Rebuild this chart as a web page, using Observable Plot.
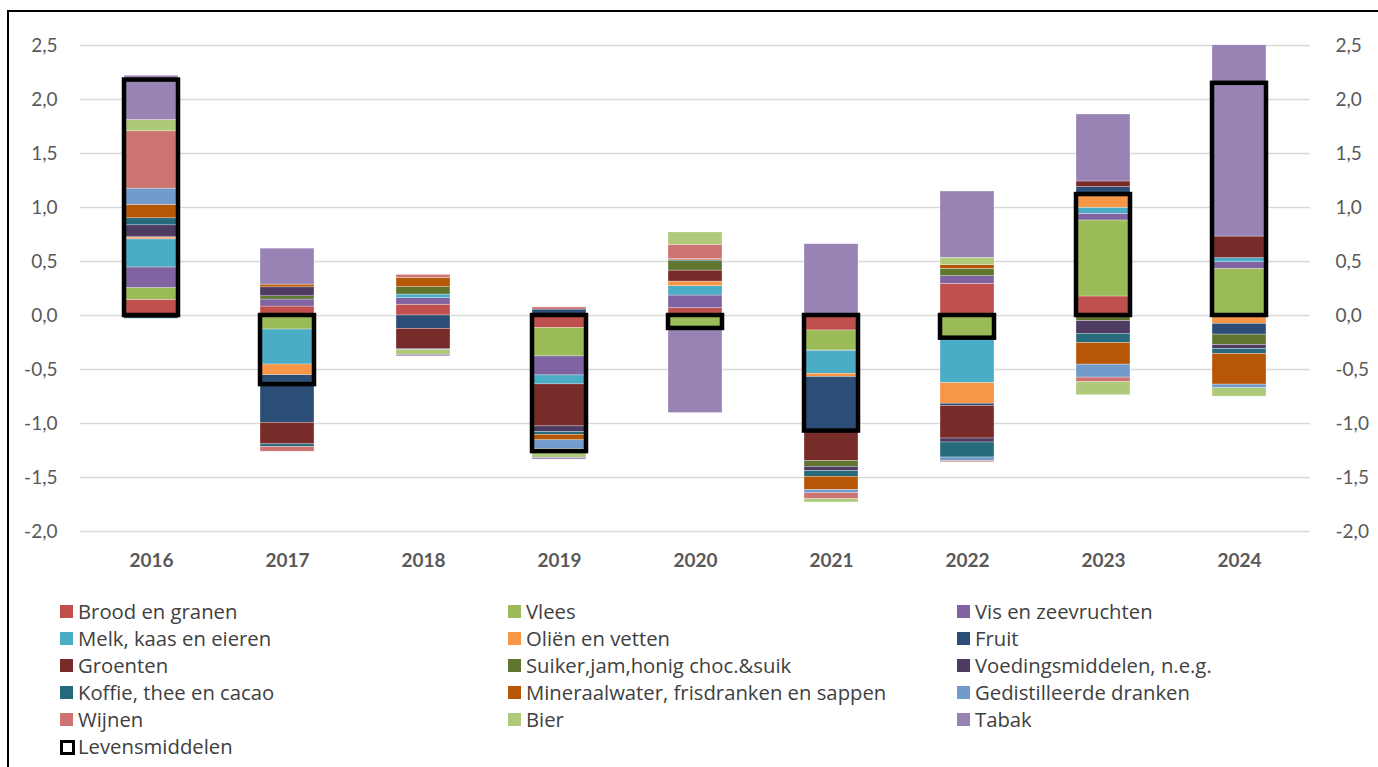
<!DOCTYPE html>
<html>
<head>
<meta charset="utf-8">
<script src="https://cdn.jsdelivr.net/npm/d3@7"></script>
<script src="https://cdn.jsdelivr.net/npm/@observablehq/plot@0.6"></script>
<style>
  html, body { margin: 0; padding: 0; background: #fff; }
  body { width: 1378px; height: 767px; position: relative; overflow: hidden; font-family: Lato, "Open Sans", sans-serif; }
  #frame { position: absolute; left: 7px; top: 10px; width: 1500px; height: 900px; border-top: 2.5px solid #000; border-left: 2.5px solid #000; }
  #chart { position: absolute; left: 0; top: 0; }
  #legend { position: absolute; left: 0; top: 598px; width: 1378px; }
  .item { position: absolute; height: 27px; line-height: 27px; font-size: 20.3px; color: #404040; white-space: nowrap; font-family: "Open Sans", Lato, sans-serif; }
  .sw { position: absolute; left: 0; top: 7px; width: 13px; height: 13px; }
  .lbl { position: absolute; left: 18px; top: 0; }
</style>
</head>
<body>
<div id="frame"></div>
<div id="chart"></div>
<div id="legend"></div>
<script>
const years = ["2016","2017","2018","2019","2020","2021","2022","2023","2024"];
const seriesNames = [
  "Brood en granen","Vlees","Vis en zeevruchten",
  "Melk, kaas en eieren","Oliën en vetten","Fruit",
  "Groenten","Suiker,jam,honig choc.&suik","Voedingsmiddelen, n.e.g.",
  "Koffie, thee en cacao","Mineraalwater, frisdranken en sappen","Gedistilleerde dranken",
  "Wijnen","Bier","Tabak"
];
const seriesColors = [
  "#C0504D","#9BBB59","#8064A2",
  "#4BACC6","#F79646","#2C4D75",
  "#772C2A","#5F7530","#4D3B62",
  "#276A7C","#B65708","#729ACA",
  "#CD7371","#AFC97A","#9983B5"
];
// values per series, one per year (2016..2024)
const broodEnGranen   = [0.145, 0.083, 0.100, -0.117, 0.068, -0.139, 0.293, 0.176, 0];
const vlees           = [0.110, -0.130, 0, -0.262, -0.123, -0.185, -0.200, 0.704, 0.432];
const vis             = [0.190, 0.065, 0.060, -0.176, 0.117, -0.005, 0.071, 0.062, 0.062];
const melk            = [0.260, -0.324, 0.034, -0.083, 0.086, -0.210, -0.426, 0.056, 0.037];
const olien           = [0.015, -0.099, 0, 0, 0.043, -0.030, -0.191, 0.123, -0.077];
const fruit           = [-0.030, -0.440, -0.123, 0.055, 0, -0.510, -0.020, 0.068, -0.100];
const groenten        = [0.010, -0.200, -0.185, -0.389, 0.102, -0.270, -0.302, 0.052, 0.200];
const suiker          = [0, 0.030, 0.068, 0, 0.086, -0.052, 0.068, -0.052, -0.096];
const voedingsmiddelen= [0.105, 0.083, -0.010, -0.052, 0, -0.040, -0.037, -0.117, -0.037];
const koffie          = [0.065, -0.025, 0, -0.025, 0.010, -0.052, -0.139, -0.086, -0.046];
const mineraalwater   = [0.125, 0.025, 0.086, -0.052, 0.010, -0.123, 0.034, -0.200, -0.284];
const gedistilleerd   = [0.150, 0, 0, -0.083, 0, -0.030, -0.034, -0.120, -0.034];
const wijnen          = [0.530, -0.043, 0.028, 0.020, 0.133, -0.055, -0.010, -0.043, 0];
const bier            = [0.105, 0, -0.046, -0.080, 0.114, -0.030, 0.068, -0.120, -0.077];
const tabak           = [0.410, 0.333, -0.015, -0.015, -0.780, 0.660, 0.614, 0.620, 2.170];
const levensmiddelen  = [2.18, -0.64, 0.0, -1.26, -0.12, -1.07, -0.21, 1.12, 2.15];
const yTicks = [-2, -1.5, -1, -0.5, 0, 0.5, 1, 1.5, 2, 2.5];

const seriesValues = [broodEnGranen, vlees, vis, melk, olien, fruit, groenten, suiker,
  voedingsmiddelen, koffie, mineraalwater, gedistilleerd, wijnen, bier, tabak];

const rows = [];
seriesNames.forEach((s, i) => years.forEach((yr, j) => rows.push({year: yr, series: s, value: seriesValues[i][j]})));
const levRows = years.map((yr, j) => ({year: yr, value: levensmiddelen[j]}));

const fmt = d => d3.format(".1f")(d).replace(".", ",").replace("\u2212", "-");

const chart = Plot.plot({
  width: 1378,
  height: 590,
  marginLeft: 80,
  marginRight: 68,
  marginTop: 45,
  marginBottom: 59,
  style: {fontFamily: "Lato, 'Open Sans', sans-serif", fontSize: "19px", color: "#595959", background: "transparent"},
  x: {domain: years, paddingInner: 0.6, paddingOuter: 0.3},
  y: {domain: [-2, 2.5]},
  color: {domain: seriesNames, range: seriesColors},
  marks: [
    Plot.gridY(yTicks, {stroke: "#D9D9D9", strokeOpacity: 1, strokeWidth: 1.5}),
    Plot.barY(rows, {x: "year", y: "value", z: "series", fill: "series", stroke: "#ffffff", strokeWidth: 0.5, strokeOpacity: 0.6, clip: true}),
    Plot.barY(levRows, {x: "year", y1: 0, y2: "value", fill: "none", stroke: "#000", strokeWidth: 4.5}),
    Plot.axisY(yTicks, {anchor: "left", tickSize: 0, tickPadding: 23, tickFormat: fmt, label: null}),
    Plot.axisY(yTicks, {anchor: "right", tickSize: 0, tickPadding: 25, tickFormat: fmt, label: null}),
    Plot.axisX({tickSize: 0, tickPadding: 22, fontWeight: "bold", label: null})
  ]
});
document.getElementById("chart").appendChild(chart);

// legend
const legend = document.getElementById("legend");
const colX = [60, 508, 957];
const items = seriesNames.map((s, i) => ({name: s, color: seriesColors[i]}));
items.push({name: "Levensmiddelen", color: null});
items.forEach((it, i) => {
  const col = i % 3, row = Math.floor(i / 3);
  const d = document.createElement("div");
  d.className = "item";
  d.style.left = colX[col] + "px";
  d.style.top = (row * 27) + "px";
  const sw = document.createElement("div");
  sw.className = "sw";
  if (it.color) sw.style.background = it.color;
  else { sw.style.background = "#fff"; sw.style.border = "3px solid #000"; sw.style.width = "9px"; sw.style.height = "9px"; sw.style.top = "7px"; }
  const lb = document.createElement("span");
  lb.className = "lbl";
  lb.textContent = it.name;
  d.appendChild(sw); d.appendChild(lb);
  legend.appendChild(d);
});
</script>
</body>
</html>
